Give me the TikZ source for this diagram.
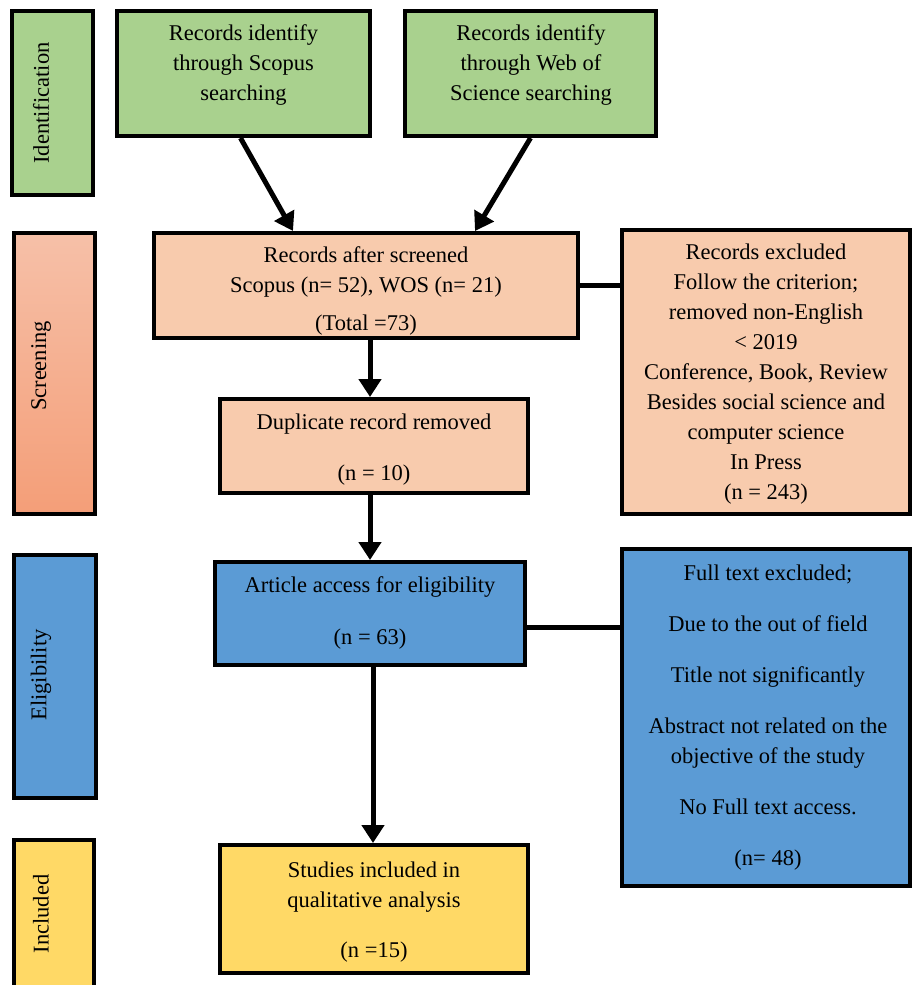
\documentclass[tikz,border=0pt]{standalone}
\usepackage{fontspec}
\setmainfont{Liberation Serif}
\usetikzlibrary{arrows.meta}
\definecolor{grn}{RGB}{169,209,142}
\definecolor{pch}{RGB}{248,203,173}
\definecolor{blu}{RGB}{91,155,213}
\definecolor{yel}{RGB}{255,217,102}
\definecolor{salT}{RGB}{246,192,168}
\definecolor{salB}{RGB}{244,158,120}
\begin{document}
\begin{tikzpicture}[x=1pt,y=-1pt,
  box/.style={draw=black,line width=4pt,rectangle,inner sep=0pt},
  txt/.style={align=center,inner sep=0pt,font=\fontsize{22.5pt}{30pt}\selectfont},
  side/.style={txt,rotate=90},
  arr/.style={line width=5pt,-{Triangle[length=18pt,width=22pt]}},
  con/.style={line width=5pt}]
\useasboundingbox (0,0) rectangle (914,985);

% side boxes
\node[box,fill=grn,minimum width=81pt,minimum height=184pt] (ident) at (52.5,103) {};
\node[box,top color=salT,bottom color=salB,minimum width=81pt,minimum height=281pt] (screenL) at (54.5,373.5) {};
\node[box,fill=blu,minimum width=82pt,minimum height=243pt] (eligL) at (55,676.5) {};
\node[box,fill=yel,minimum width=80pt,minimum height=170pt] (inclL) at (54,925) {};

\node[side] (identT) at (41,103) {Identification};
\node[side] (screenT) at (41,366) {Screening};
\node[side] (eligT) at (41,675) {Eligibility};
\node[side] (inclT) at (41,914) {Included};

% main boxes
\node[box,fill=grn,minimum width=253pt,minimum height=125pt] (scopus) at (243.5,73.5) {};
\node[box,fill=grn,minimum width=251pt,minimum height=125pt] (wos) at (530.5,73.5) {};
\node[box,fill=pch,minimum width=424pt,minimum height=105pt] (screened) at (366,285.5) {};
\node[box,fill=pch,minimum width=288pt,minimum height=284pt] (excl) at (766,372) {};
\node[box,fill=pch,minimum width=308pt,minimum height=94pt] (dup) at (374,446) {};
\node[box,fill=blu,minimum width=310pt,minimum height=103pt] (article) at (370,613.5) {};
\node[box,fill=blu,minimum width=288pt,minimum height=337pt] (full) at (766,717.5) {};
\node[box,fill=yel,minimum width=308pt,minimum height=128pt] (studies) at (374,909) {};

% texts
\node[txt] (scopusT) at (243.5,65.5) {Records identify\\through Scopus\\searching};
\node[txt] (wosT) at (531,65.5) {Records identify\\through Web of\\Science searching};
\node[txt] (screenedT) at (366,290.5) {Records after screened\\Scopus (n= 52), WOS (n= 21)\\[8pt](Total =73)};
\node[txt] (exclT) at (766,374.5) {Records excluded\\Follow the criterion;\\removed non-English\\< 2019\\Conference, Book, Review\\Besides social science and\\computer science\\In Press\\(n = 243)};
\node[txt] (dupT) at (374,449.5) {Duplicate record removed\\[21pt](n = 10)};
\node[txt] (articleT) at (370,613) {Article access for eligibility\\[22pt](n = 63)};
\node[txt] (fullT) at (768,717.5) {Full text excluded;\\[21pt]Due to the out of field\\[21pt]Title not significantly\\[21pt]Abstract not related on the\\objective of the study\\[21pt]No Full text access.\\[21pt](n= 48)};
\node[txt] (studiesT) at (374,912) {Studies included in\\qualitative analysis\\[20pt](n =15)};

% connectors
\draw[arr] ([xshift=-3pt]scopus.south) -- ([xshift=-73pt]screened.north);
\draw[arr] (wos.south) -- ([xshift=109pt]screened.north);
\draw[arr] ([xshift=4pt]screened.south) -- ([xshift=4pt]screened.south |- dup.north);
\draw[arr] ([xshift=-4pt]dup.south) -- ([xshift=-4pt]dup.south |- article.north);
\draw[arr] ([xshift=3pt]article.south) -- ([xshift=3pt]article.south |- studies.north);
\draw[con] (screened.east) -- (screened.east -| excl.west);
\draw[con] ([yshift=-13.5pt]article.east) -- ([yshift=-13.5pt]article.east -| full.west);
\end{tikzpicture}
\end{document}
